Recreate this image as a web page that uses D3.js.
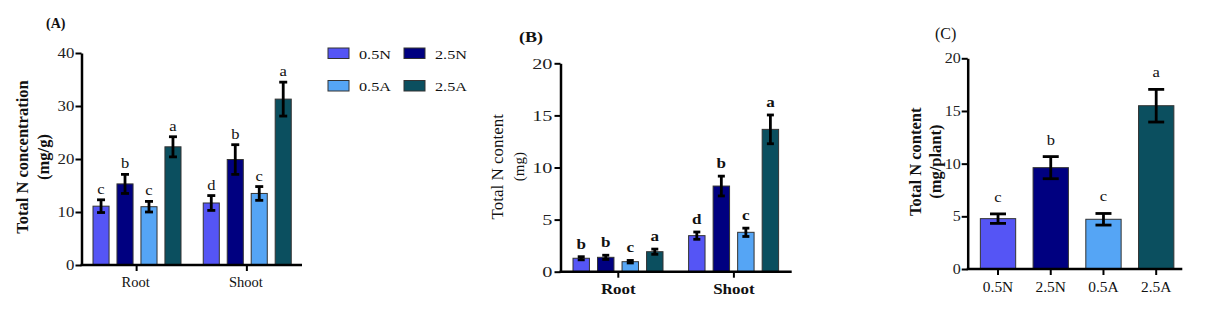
<!DOCTYPE html>
<html>
<head>
<meta charset="utf-8">
<script src="https://cdn.jsdelivr.net/npm/d3@7"></script>
<style>
    body { margin: 0; background: #fff; }
    svg { display: block; }
</style>
</head>
<body>
<div id="chart"></div>
<script>
// Declare data.
const SERIES = ['0.5N', '2.5N', '0.5A', '2.5A'];
const COLORS = ['#5555f5', '#000080', '#55a5f5', '#0b4f5f'];
const ORGANS = ['Root', 'Shoot'];

// (A) total N concentration (mg/g), rows = organs, cols = series
const concMean = [[11.1, 15.3, 11.0, 22.3], [11.7, 19.9, 13.5, 31.3]];
const concErr = [[1.2, 1.8, 1.0, 1.9], [1.4, 2.8, 1.3, 3.2]];
const concLetters = [['c', 'b', 'c', 'a'], ['d', 'b', 'c', 'a']];
const concTicks = [0, 10, 20, 30, 40];

// (B) total N content (mg)
const contMean = [[1.29, 1.38, 0.96, 1.92], [3.46, 8.22, 3.78, 13.66]];
const contErr = [[0.15, 0.2, 0.12, 0.25], [0.35, 0.95, 0.4, 1.38]];
const contLetters = [['b', 'b', 'c', 'a'], ['d', 'b', 'c', 'a']];
const contTicks = [0, 5, 10, 15, 20];

// (C) total N content (mg/plant)
const plantMean = [4.78, 9.62, 4.72, 15.5];
const plantErr = [0.45, 1.05, 0.55, 1.55];
const plantLetters = ['c', 'b', 'c', 'a'];
const plantTicks = [0, 5, 10, 15, 20];

const FONT = "'Liberation Serif', 'Times New Roman', serif";

const svg = d3.select('#chart').append('svg')
    .attr('width', 1231)
    .attr('height', 320);

// Helper: text with optional horizontal stretch / rotation.
const addText = (x, y, str, o = {}) => {
    const sx = o.sx || 1;
    const t = svg.append('text')
        .attr('transform', o.rot
            ? `translate(${x},${y}) scale(${sx},1) rotate(-90)`
            : `translate(${x},${y}) scale(${sx},1)`)
        .attr('text-anchor', o.anchor || 'middle')
        .style('font-family', FONT)
        .style('font-size', (o.size || 14) + 'px')
        .style('font-weight', o.weight || 'normal')
        .attr('fill', '#111')
        .text(str);
    if (o.rot) t.attr('dy', '0.35em');
    return t;
};

// Helper: left axis.
const drawYAxis = (x, y, ticks, size, sx) => {
    const g = svg.append('g')
        .attr('transform', `translate(${x},0)`)
        .call(d3.axisLeft(y).tickValues(ticks).tickSize(6).tickSizeOuter(0).tickPadding(0));
    g.attr('font-family', null).attr('font-size', null);
    g.select('.domain').attr('stroke', '#000').attr('stroke-width', 2.5);
    g.selectAll('.tick line').attr('stroke', '#000').attr('stroke-width', 2);
    g.selectAll('.tick text')
        .style('font-family', FONT)
        .style('font-size', size + 'px')
        .attr('fill', '#222')
        .attr('transform', `scale(${sx},1)`);
    return g;
};

// Helper: bottom axis line + ticks at given x positions.
const drawXAxis = (x0, x1, y0, tickXs) => {
    svg.append('line')
        .attr('x1', x0 - 1).attr('x2', x1)
        .attr('y1', y0).attr('y2', y0)
        .attr('stroke', '#000').attr('stroke-width', 2.5);
    svg.selectAll(null)
        .data(tickXs)
        .join('line')
        .attr('x1', d => d).attr('x2', d => d)
        .attr('y1', y0).attr('y2', y0 + 6)
        .attr('stroke', '#000').attr('stroke-width', 2);
};

// Helper: bars + error bars + letters.
const drawBars = (recs, y, bw, capW, letterOpt, letterOff) => {
    svg.append('g').selectAll('rect')
        .data(recs)
        .join('rect')
        .attr('x', d => d.x)
        .attr('y', d => y(d.mean))
        .attr('width', bw)
        .attr('height', d => y(0) - y(d.mean))
        .attr('fill', d => COLORS[d.s])
        .attr('stroke', '#333')
        .attr('stroke-width', 1);

    const eg = svg.append('g')
        .attr('stroke', '#000')
        .attr('stroke-width', 2.8);
    recs.forEach(d => {
        const cx = d.x + bw / 2;
        eg.append('line')
            .attr('x1', cx).attr('x2', cx)
            .attr('y1', y(d.mean - d.err)).attr('y2', y(d.mean + d.err));
        [d.mean - d.err, d.mean + d.err].forEach(v => {
            eg.append('line')
                .attr('x1', cx - capW / 2).attr('x2', cx + capW / 2)
                .attr('y1', y(v)).attr('y2', y(v));
        });
        addText(cx, y(d.mean + d.err) - letterOff, d.letter, letterOpt);
    });
};

// ---------- Panel A ----------
const yA = d3.scaleLinear().domain([0, 40]).range([265, 53]);
const xA = d3.scaleBand().domain(ORGANS).range([81.5, 302]);
const xAsub = d3.scaleBand().domain(SERIES).range([11.5, 99.5]).paddingInner(0.33);
const recsA = [];
ORGANS.forEach((o, i) => SERIES.forEach((s, j) => recsA.push({
    x: xA(o) + xAsub(s), s: j, mean: concMean[i][j], err: concErr[i][j], letter: concLetters[i][j]
})));
drawBars(recsA, yA, xAsub.bandwidth(), 8, {size: 15, sx: 1.1}, 6);
drawYAxis(81.5, yA, concTicks, 14, 1.2);
drawXAxis(81.5, 302, yA(0), ORGANS.map(o => xA(o) + xA.bandwidth() / 2));
ORGANS.forEach(o => addText(xA(o) + xA.bandwidth() / 2 - 1, 287, o, {size: 14.5}));
addText(46, 28, '(A)', {size: 14, weight: 'bold', anchor: 'start'});
addText(22, 157, 'Total N concentration', {size: 16.5, weight: 'bold', rot: true});
addText(43, 157, '(mg/g)', {size: 16.5, weight: 'bold', rot: true});

// Legend
const legend = svg.append('g');
SERIES.forEach((s, i) => {
    const lx = 328 + (i % 2) * 76;
    const ly = 48 + Math.floor(i / 2) * 32.5;
    legend.append('rect')
        .attr('x', lx).attr('y', ly)
        .attr('width', 21).attr('height', 10.5)
        .attr('fill', COLORS[i])
        .attr('stroke', '#333').attr('stroke-width', 1);
    addText(lx + 31, ly + 10.5, s, {size: 13.5, sx: 1.2, anchor: 'start'});
});

// ---------- Panel B ----------
const yB = d3.scaleLinear().domain([0, 20]).range([271.7, 63.3]);
const xB = d3.scaleBand().domain(ORGANS).range([560.5, 791.7]);
const xBsub = d3.scaleBand().domain(SERIES).range([12.5, 102.5]).paddingInner(0.33);
const recsB = [];
ORGANS.forEach((o, i) => SERIES.forEach((s, j) => recsB.push({
    x: xB(o) + xBsub(s), s: j, mean: contMean[i][j], err: contErr[i][j], letter: contLetters[i][j]
})));
drawBars(recsB, yB, xBsub.bandwidth(), 7, {size: 15.5, weight: 'bold', sx: 1.1}, 8);
drawYAxis(560.5, yB, contTicks, 15, 1.35);
drawXAxis(560.5, 791.7, yB(0), ORGANS.map(o => xB(o) + xB.bandwidth() / 2));
ORGANS.forEach(o => addText(xB(o) + xB.bandwidth() / 2, 294, o, {size: 14.5, weight: 'bold', sx: 1.17}));
addText(519, 42, '(B)', {size: 15, weight: 'bold', anchor: 'start', sx: 1.2});
addText(497, 166.7, 'Total N content', {size: 17, rot: true});
addText(519, 166.7, '(mg)', {size: 15, rot: true});

// ---------- Panel C ----------
const yC = d3.scaleLinear().domain([0, 20]).range([269, 58.3]);
const xC = d3.scaleBand().domain(SERIES).range([967.7, 1182.3])
    .paddingInner(0.33).paddingOuter(0.2).align(0.6);
const recsC = SERIES.map((s, j) => ({
    x: xC(s), s: j, mean: plantMean[j], err: plantErr[j], letter: plantLetters[j]
}));
drawBars(recsC, yC, xC.bandwidth(), 16, {size: 15, sx: 1.1}, 12);
drawYAxis(967.7, yC, plantTicks, 14, 1.15);
drawXAxis(967.7, 1182.3, yC(0), SERIES.map(s => xC(s) + xC.bandwidth() / 2));
SERIES.forEach(s => addText(xC(s) + xC.bandwidth() / 2, 291.5, s, {size: 14, sx: 1.1}));
addText(935, 39, '(C)', {size: 16, anchor: 'start'});
addText(915, 161.7, 'Total N content', {size: 16.5, weight: 'bold', rot: true});
addText(935, 161.7, '(mg/plant)', {size: 16.5, weight: 'bold', rot: true});
</script>
</body>
</html>
